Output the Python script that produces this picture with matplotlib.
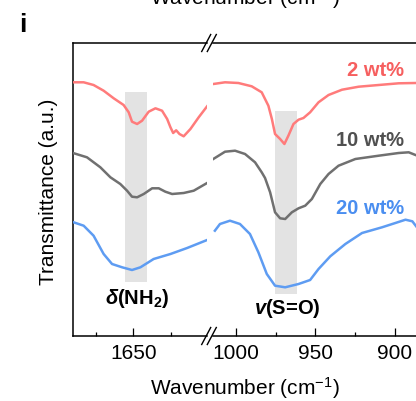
#!/usr/bin/env python3
"""FTIR transmittance of the 2/10/20 wt% films, broken wavenumber axis."""

import matplotlib
matplotlib.use("Agg")
import matplotlib.pyplot as plt
from matplotlib.lines import Line2D
from matplotlib.ticker import FixedLocator

plt.rcParams["font.family"] = ["Liberation Sans", "DejaVu Sans"]
plt.rcParams["mathtext.fontset"] = "custom"
plt.rcParams["mathtext.rm"] = "Liberation Sans"
plt.rcParams["mathtext.it"] = "Liberation Sans:italic"
plt.rcParams["mathtext.bf"] = "Liberation Sans:bold"
plt.rcParams["mathtext.bfit"] = "Liberation Sans:bold:italic"

# ---- data: wavenumber (cm-1) and transmittance (a.u., offset traces) ----
# 1600-1690 window
wn_lo_2 = [1689.8, 1683.1, 1676.5, 1669.8, 1663.1, 1656.5, 1653.1, 1650.9, 1647.5,
           1644.2, 1639.8, 1635.3, 1630.9, 1627.5, 1625.3, 1623.5, 1621.5, 1619.3,
           1616.5, 1612.0, 1606.5, 1600.9]
t_lo_2 = [2.537, 2.537, 2.51, 2.453, 2.377, 2.31, 2.237, 2.143, 2.12,
          2.153, 2.243, 2.277, 2.253, 2.17, 2.087, 2.03, 2.057, 2.02,
          1.997, 2.07, 2.187, 2.297]

wn_lo_10 = [1690.2, 1680.9, 1672.0, 1665.3, 1658.7, 1654.2, 1650.9, 1647.5, 1643.1,
            1637.5, 1633.1, 1628.7, 1624.2, 1616.5, 1609.8, 1600.9]
t_lo_10 = [1.83, 1.787, 1.687, 1.587, 1.52, 1.453, 1.393, 1.387, 1.42,
           1.477, 1.477, 1.443, 1.42, 1.43, 1.453, 1.53]

wn_lo_20 = [1689.8, 1683.1, 1676.5, 1669.8, 1664.2, 1657.5, 1650.9, 1645.3, 1636.5,
            1625.3, 1614.2, 1600.9]
t_lo_20 = [1.137, 1.103, 1.003, 0.82, 0.72, 0.687, 0.66, 0.687, 0.77,
           0.82, 0.88, 0.96]

# 886-1015 window
wn_hi_2 = [1014.3, 1006.9, 998.5, 990.1, 983.8, 979.6, 977.4, 975.4, 972.2, 969.5,
           967.0, 963.8, 960.6, 957.5, 953.3, 948.0, 941.7, 933.2, 922.7, 910.1,
           897.5, 886.9]
t_hi_2 = [2.52, 2.537, 2.53, 2.497, 2.437, 2.303, 2.17, 2.02, 1.97, 1.92,
          2.003, 2.12, 2.163, 2.18, 2.237, 2.337, 2.41, 2.463, 2.493, 2.51,
          2.527, 2.53]

wn_hi_10 = [1014.3, 1006.9, 1000.6, 994.3, 988.0, 983.8, 981.7, 978.5, 975.4, 972.2,
            969.0, 964.8, 960.6, 956.4, 952.2, 946.9, 941.7, 935.4, 924.8, 910.1,
            897.5, 891.2, 886.9]
t_hi_10 = [1.77, 1.843, 1.853, 1.82, 1.737, 1.637, 1.58, 1.437, 1.237, 1.177,
           1.17, 1.237, 1.277, 1.303, 1.37, 1.52, 1.62, 1.703, 1.77, 1.803,
           1.83, 1.837, 1.81]

wn_hi_20 = [1013.3, 1010.1, 1003.8, 997.5, 991.2, 985.9, 980.6, 975.4, 969.0, 960.6,
            953.3, 948.0, 940.6, 931.1, 920.6, 908.0, 899.6, 893.2, 888.9, 886.5]
t_hi_20 = [1.053, 1.12, 1.153, 1.12, 1.02, 0.837, 0.62, 0.503, 0.487, 0.52,
           0.56, 0.67, 0.797, 0.92, 1.03, 1.087, 1.13, 1.163, 1.147, 1.097]

labels = ["2 wt%", "10 wt%", "20 wt%"]
line_colors = ["#FF7B7B", "#707070", "#5E9CF2"]
text_colors = ["#F65F5F", "#505050", "#4A8EF0"]
label_y = [2.67, 1.97, 1.28]

# highlighted bands: (wn_start, wn_end, t_bottom, t_top)
band_nh2 = (1655.3, 1640.7, 0.54, 2.44)
band_so = (975.3, 961.4, 0.42, 2.25)

W, H = 416, 402
fig = plt.figure(figsize=(W / 100, H / 100), dpi=100)


def px_box(x0, x1, y_top, y_bot):
    return [x0 / W, 1 - y_bot / H, (x1 - x0) / W, (y_bot - y_top) / H]


ax_lo = fig.add_axes(px_box(72.7, 206.5, 44, 337))
ax_hi = fig.add_axes(px_box(212.5, 416, 44, 337))

ax_lo.set_xlim(1690.4, 1601.3)
ax_hi.set_xlim(1014.8, 886.6)

for ax in (ax_lo, ax_hi):
    ax.set_ylim(0, 2.93)
    ax.set_yticks([])
    ax.spines["right"].set_visible(False)
    for s in ax.spines.values():
        s.set_linewidth(1.1)
    ax.tick_params(axis="x", which="major", direction="in", length=5.5, width=0.9,
                   labelsize=15, pad=5)
    ax.tick_params(axis="x", which="minor", direction="in", length=3, width=0.9)
ax_hi.spines["left"].set_visible(False)

ax_lo.xaxis.set_major_locator(FixedLocator([1650]))
ax_lo.xaxis.set_minor_locator(FixedLocator([1675, 1625]))
ax_hi.xaxis.set_major_locator(FixedLocator([1000, 950, 900]))
ax_hi.xaxis.set_minor_locator(FixedLocator([975, 925]))

for ax, band in ((ax_lo, band_nh2), (ax_hi, band_so)):
    ax.fill_between([band[0], band[1]], band[2], band[3], color="#E3E3E3",
                    linewidth=0, zorder=1)

lo_series = [(wn_lo_2, t_lo_2), (wn_lo_10, t_lo_10), (wn_lo_20, t_lo_20)]
hi_series = [(wn_hi_2, t_hi_2), (wn_hi_10, t_hi_10), (wn_hi_20, t_hi_20)]
for (xl, yl), (xh, yh), c in zip(lo_series, hi_series, line_colors):
    ax_lo.plot(xl, yl, color=c, lw=1.8, solid_joinstyle="round", zorder=3)
    ax_hi.plot(xh, yh, color=c, lw=1.8, solid_joinstyle="round", zorder=3)

for lab, c, y in zip(labels, text_colors, label_y):
    ax_hi.text(894, y, lab, color=c, fontsize=14.5, fontweight="bold",
               ha="right", va="center")

ax_lo.text(1647.3, 0.38, r"$\boldsymbol{\delta}$(NH$_\mathbf{2}$)", fontsize=14.5,
           fontweight="bold", ha="center", va="center")
ax_hi.text(967.8, 0.28, r"$\boldsymbol{v}$(S=O)", fontsize=14.5, fontweight="bold",
           ha="center", va="center")

# axis-break slashes on top and bottom spines
for y in (44, 337):
    for dx in (0, 5.6):
        x0 = 201.7 + dx
        fig.add_artist(Line2D([x0 / W, (x0 + 9) / W], [1 - (y + 8.5) / H, 1 - (y - 8.5) / H],
                              color="black", lw=1.0))

fig.text(245 / W, 1 - 388 / H, "Wavenumber (cm$^{-1}$)", fontsize=15,
         ha="center", va="center")
fig.text(48.5 / W, 1 - 191.5 / H, "Transmittance (a.u.)", fontsize=15,
         rotation=90, ha="center", va="center")
# label of the panel above, cut by the top edge
fig.text(245 / W, 1 - 5 / H, "Wavenumber (cm$^{-1}$)", fontsize=15,
         ha="center", va="baseline")
fig.text(23 / W, 1 - 32 / H, "i", fontsize=19, fontweight="bold",
         ha="center", va="baseline")

fig.savefig("out.png", dpi=100)
plt.close(fig)
